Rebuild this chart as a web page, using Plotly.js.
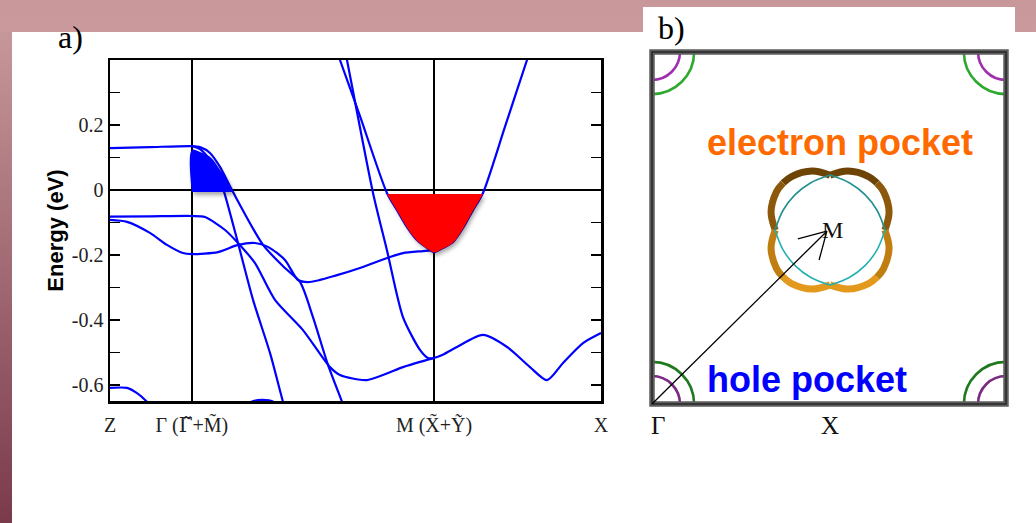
<!DOCTYPE html>
<html><head><meta charset="utf-8">
<script src="https://cdn.plot.ly/plotly-3.0.1.min.js"></script>
<style>
html,body{margin:0;padding:0;background:#fff;}
#bg{position:absolute;left:0;top:0;width:1036px;height:523px;overflow:hidden;background:#fff;}
#bandTop{position:absolute;left:0;top:0;width:1036px;height:32px;background:linear-gradient(#c7979a,#ca9a9d);}
#bandLeft{position:absolute;left:0;top:32px;width:12px;height:491px;background:linear-gradient(#c69799,#7a3a4c);}
#boxB{position:absolute;left:643px;top:7px;width:372px;height:26px;background:#fff;}
#plot{position:absolute;left:0;top:0;width:1036px;height:523px;}
</style></head>
<body>
<div id="bg"><div id="bandTop"></div><div id="bandLeft"></div><div id="boxB"></div></div>
<div id="plot"></div>
<script>
// ---------- panel a) data : k-path position and energy (eV) ----------
const kTickVals = [0, 0.5, 1.98, 3.0];
const kTickText = ['Z', 'Γ (<span style="font-family:DejaVu Serif">Γ̃</span>+M̃)', 'M (X̃+Ỹ)', 'X'];
const eTickVals = [0.2, 0, -0.2, -0.4, -0.6];
const eTickText = ['0.2', '0', '-0.2', '-0.4', '-0.6'];
const eMinorVals = [0.3, 0.1, -0.1, -0.3, -0.5];

const b1K = [0, 0.244, 0.5, 0.55, 0.611, 0.672, 0.745, 0.935, 1.069, 1.161, 1.240, 1.332, 1.418, 1.50];
const b1E = [0.129, 0.132, 0.135, 0.132, 0.114, 0.071, 0.0, -0.169, -0.240, -0.283, -0.391, -0.538, -0.652, -0.76];

const b2K = [0.5, 0.55, 0.611, 0.660, 0.697, 0.782, 0.874, 0.978, 1.057, 1.12];
const b2E = [0.135, 0.126, 0.092, 0.046, -0.006, -0.163, -0.338, -0.502, -0.652, -0.76];

const b3K = [0, 0.244, 0.5, 0.580, 0.703, 0.782, 0.886, 1.008, 1.179, 1.344, 1.405, 1.570, 1.790, 1.894, 1.98, 2.04, 2.120, 2.279, 2.426, 2.566, 2.670, 2.768, 2.890, 3.0];
const b3E = [-0.082, -0.081, -0.080, -0.083, -0.123, -0.163, -0.225, -0.338, -0.431, -0.545, -0.569, -0.585, -0.545, -0.529, -0.517, -0.505, -0.483, -0.446, -0.483, -0.545, -0.585, -0.532, -0.471, -0.440];

const b4K = [0, 0.104, 0.244, 0.348, 0.446, 0.5, 0.660, 0.782, 0.886, 0.965, 1.069, 1.149, 1.222, 1.387, 1.527, 1.711, 1.790, 1.912, 1.98];
const b4E = [-0.092, -0.098, -0.132, -0.169, -0.194, -0.197, -0.191, -0.169, -0.163, -0.175, -0.215, -0.277, -0.283, -0.262, -0.240, -0.206, -0.194, -0.188, -0.185];

const b5K = [1.362, 1.405, 1.527, 1.692, 1.754, 1.815, 1.876, 1.937, 1.98, 2.035, 2.096, 2.157, 2.218, 2.279, 2.413, 2.548, 2.59];
const b5E = [0.46, 0.4, 0.228, -0.009, -0.062, -0.114, -0.154, -0.178, -0.191, -0.178, -0.160, -0.117, -0.062, -0.009, 0.194, 0.4, 0.46];

const b6K = [1.424, 1.448, 1.607, 1.692, 1.790, 1.894, 1.943, 1.98];
const b6E = [0.462, 0.4, -0.009, -0.185, -0.391, -0.492, -0.517, -0.517];

const b7K = [0, 0.104, 0.165, 0.226, 0.305];
const b7E = [-0.609, -0.609, -0.625, -0.652, -0.708];

const b8K = [0.764, 0.855, 0.929, 1.008, 1.100];
const b8E = [-0.708, -0.654, -0.646, -0.654, -0.708];

// filled pockets
const holeFillK = [0.5, 0.5, 0.55, 0.611, 0.672, 0.715, 0.752];
const holeFillE = [-0.006, 0.123, 0.117, 0.102, 0.062, 0.031, -0.006];
const elecFillK = [1.692, 1.754, 1.815, 1.876, 1.937, 1.98, 2.035, 2.096, 2.157, 2.218, 2.279];
const elecFillE = [-0.012, -0.064, -0.116, -0.156, -0.180, -0.192, -0.180, -0.162, -0.119, -0.064, -0.012];

// ---------- panel b) Brillouin zone sketch (units of the zone edge) ----------
const zoneCorners = [[0, 0], [1, 0], [0, 1], [1, 1]];
const holeRadii = [0.079, 0.119];            // inner (purple), outer (green)
const cloverCenter = [0.503, 0.494];
const lobeDX = [0, 18, 38.5, 47, 53.5, 59, 54.8];   // px offsets of one lobe
const lobeDY = [54.8, 59, 53.5, 47, 38.5, 18, 0];
const tealDX = [0, 19.6, 35.2, 47.1, 55];
const tealDY = [55, 47.1, 35.2, 19.6, 0];
const arrowTip = [0.494, 0.491];
const arrowTail = [0, 0];
const arrowLegs = [[0.412, 0.469], [0.472, 0.409]];

// ---------- build ----------
const W = 1036, H = 523;
const px = x => x / W, py = y => 1 - y / H;
const blue = '#0000ff';
const data = [];
function band(k, e) {
  data.push({x: k, y: e, type: 'scatter', mode: 'lines', xaxis: 'x', yaxis: 'y',
    line: {color: blue, width: 2.2, shape: 'spline', smoothing: 0.7}, hoverinfo: 'skip'});
}
[[b1K, b1E], [b2K, b2E], [b3K, b3E], [b4K, b4E], [b5K, b5E], [b6K, b6E], [b7K, b7E], [b8K, b8E]]
  .forEach(b => band(b[0], b[1]));
data.push({x: holeFillK, y: holeFillE, type: 'scatter', mode: 'none', fill: 'toself',
  fillcolor: '#0000ff', line: {shape: 'spline'}, hoverinfo: 'skip'});
data.push({x: elecFillK, y: elecFillE, type: 'scatter', mode: 'none', fill: 'toself',
  fillcolor: '#ff0000', line: {shape: 'spline', smoothing: 1}, hoverinfo: 'skip'});
const fillTraceIdx = [data.length - 2, data.length - 1];

// clover (electron pocket)
const sxU = 1 / 354, syU = 1 / 352;
const quads = [[1, 1, 'top'], [-1, 1, 'top'], [-1, -1, 'bot'], [1, -1, 'bot']];
const cloverCols = {top: ['#6e4306', '#8c580b'], bot: ['#e39a1c', '#c07e10']};
quads.forEach(q => {
  const seg = (i0, i1, col) => {
    const xs = [], ys = [];
    for (let i = i0; i <= i1; i++) {
      xs.push(cloverCenter[0] + q[0] * lobeDX[i] * sxU);
      ys.push(cloverCenter[1] + q[1] * lobeDY[i] * syU);
    }
    data.push({x: xs, y: ys, type: 'scatter', mode: 'lines', xaxis: 'x2', yaxis: 'y2',
      line: {color: col, width: 7, shape: 'spline'}, hoverinfo: 'skip'});
  };
  seg(0, 3, cloverCols[q[2]][0]);
  seg(3, 6, cloverCols[q[2]][1]);
});
quads.forEach(q => {
  data.push({x: tealDX.map(d => cloverCenter[0] + q[0] * d * sxU),
    y: tealDY.map(d => cloverCenter[1] + q[1] * d * syU),
    type: 'scatter', mode: 'lines', xaxis: 'x2', yaxis: 'y2',
    line: {color: q[1] > 0 ? '#23908f' : '#25b0b0', width: 1.6, shape: 'spline'}, hoverinfo: 'skip'});
});

const shapes = [];
zoneCorners.forEach(c => {
  const top = c[1] === 1;
  holeRadii.forEach((r, i) => {
    const col = i === 0 ? (top ? '#a02fae' : '#7a2a82') : (top ? '#2fa82f' : '#21791f');
    shapes.push({type: 'circle', xref: 'x2', yref: 'y2', x0: c[0] - r, x1: c[0] + r,
      y0: c[1] - r * 354 / 352, y1: c[1] + r * 354 / 352, line: {color: col, width: 2.6}});
  });
});
// zone border
shapes.push({type: 'rect', xref: 'x2 domain', yref: 'y2 domain', x0: 0, x1: 1, y0: 0, y1: 1,
  line: {color: '#5e5e5e', width: 5.5}});
shapes.push({type: 'rect', xref: 'x2 domain', yref: 'y2 domain', x0: 0, x1: 1, y0: 0, y1: 1,
  line: {color: '#2a2a2a', width: 1.5}});
// arrow Γ -> M
shapes.push({type: 'line', xref: 'x2', yref: 'y2', x0: arrowTail[0], y0: arrowTail[1],
  x1: arrowTip[0], y1: arrowTip[1], line: {color: '#000', width: 1.3}});
arrowLegs.forEach(l => shapes.push({type: 'line', xref: 'x2', yref: 'y2', x0: l[0], y0: l[1],
  x1: arrowTip[0], y1: arrowTip[1], line: {color: '#000', width: 1.3}}));

const serif = 'Liberation Serif, Times New Roman, serif';
const sans = 'Liberation Sans, Arial, sans-serif';
const ann = (t, x, y, size, fam, col) => ({text: t, x: px(x), y: py(y), xref: 'paper', yref: 'paper',
  showarrow: false, xanchor: 'center', yanchor: 'middle', font: {family: fam, size: size, color: col}});
const annotations = [
  ann('a)', 70.5, 37, 32, serif, '#000'),
  ann('b)', 671, 28, 32, serif, '#000'),
  ann('<b>electron pocket</b>', 840, 142, 36, sans, '#ff6a00'),
  ann('<b>hole pocket</b>', 807, 379, 36, sans, '#0000ff'),
  ann('Γ', 658, 425, 25, serif, '#111'),
  ann('X', 830, 425, 25, serif, '#111'),
  ann('M', 832, 230, 24, serif, '#111')
];

const layout = {
  width: W, height: H, margin: {l: 0, r: 0, t: 0, b: 0},
  paper_bgcolor: 'rgba(0,0,0,0)', plot_bgcolor: 'rgba(0,0,0,0)', showlegend: false,
  xaxis: {domain: [px(110), px(601)], range: [0, 3], tickmode: 'array', tickvals: kTickVals, ticktext: kTickText,
    showgrid: true, gridcolor: '#000', gridwidth: 2.5, zeroline: false, showline: true, linecolor: '#000',
    linewidth: 2.5, mirror: true, ticks: '', ticklabelstandoff: 4,
    tickfont: {family: serif, size: 20, color: '#222'}, fixedrange: true},
  yaxis: {domain: [py(401), py(60)], range: [-0.6492, 0.4], tickmode: 'array', tickvals: eTickVals, ticktext: eTickText,
    ticks: 'inside', ticklen: 10, tickwidth: 1.4, tickcolor: '#000',
    minor: {tickmode: 'array', tickvals: eMinorVals, ticks: 'inside', ticklen: 10, tickwidth: 1.4, tickcolor: '#000'},
    showline: true, linecolor: '#000', linewidth: 2.5, mirror: 'ticks', showgrid: false,
    zeroline: true, zerolinecolor: '#000', zerolinewidth: 1.6,
    tickfont: {family: serif, size: 20, color: '#222'},
    title: {text: '<b>Energy (eV)</b>', font: {family: sans, size: 22, color: '#000'}, standoff: 2}, fixedrange: true},
  xaxis2: {domain: [px(652), px(1006)], range: [0, 1], visible: false, anchor: 'y2', fixedrange: true},
  yaxis2: {domain: [py(404), py(52)], range: [0, 1], visible: false, anchor: 'x2', fixedrange: true},
  shapes: shapes, annotations: annotations
};

Plotly.newPlot('plot', data, layout, {staticPlot: true, displayModeBar: false}).then(() => {
  const traces = document.querySelectorAll('.subplot.xy .scatterlayer .trace');
  fillTraceIdx.forEach(i => {
    if (traces[i]) traces[i].style.filter = 'drop-shadow(2px 3px 2px rgba(0,0,0,0.35))';
  });
});
</script>
</body></html>
